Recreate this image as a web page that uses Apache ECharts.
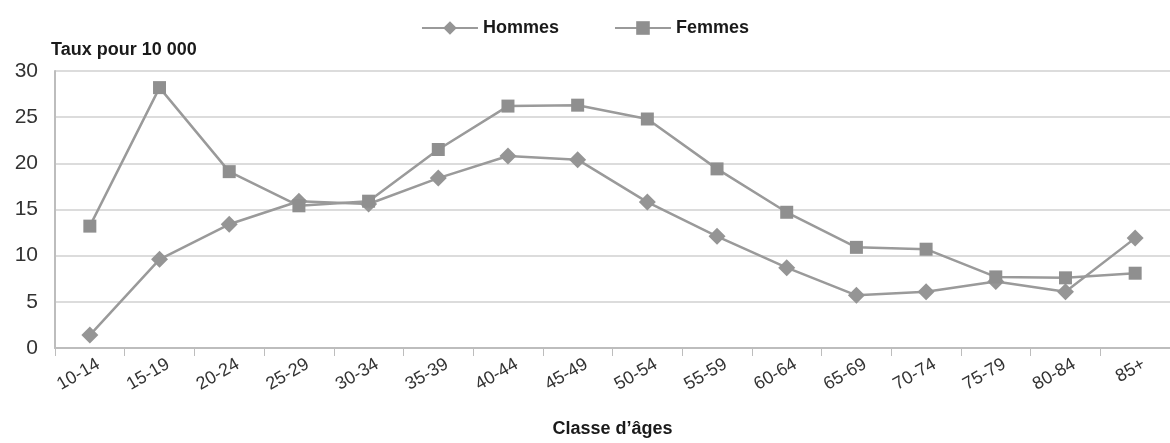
<!DOCTYPE html>
<html><head><meta charset="utf-8">
<script src="https://cdn.jsdelivr.net/npm/echarts@6/dist/echarts.min.js"></script>
<style>html,body{margin:0;padding:0;background:#fff}#c{width:1170px;height:443px}</style>
</head><body><div id="c"></div>
<script>
const categories = ['10-14','15-19','20-24','25-29','30-34','35-39','40-44','45-49','50-54','55-59','60-64','65-69','70-74','75-79','80-84','85+'];
const hommes = [1.4, 9.6, 13.4, 15.9, 15.6, 18.4, 20.8, 20.4, 15.8, 12.1, 8.7, 5.7, 6.1, 7.2, 6.1, 11.9];
const femmes = [13.2, 28.2, 19.1, 15.4, 15.9, 21.5, 26.2, 26.3, 24.8, 19.4, 14.7, 10.9, 10.7, 7.7, 7.6, 8.1];
const yTicks = [0, 5, 10, 15, 20, 25, 30];
const FONT = '"Liberation Sans Narrow", "Arial Narrow", "Liberation Sans", sans-serif';
const chart = echarts.init(document.getElementById('c'));
chart.setOption({
  animation: false,
  textStyle: { fontFamily: FONT },
  legend: {
    top: 14, left: 'center', itemGap: 55, itemWidth: 56, itemHeight: 17,
    textStyle: { fontFamily: FONT, fontSize: 18, fontWeight: 'bold', color: '#1a1a1a' },
    data: [
      { name: 'Hommes', itemStyle: { color: '#959595' } },
      { name: 'Femmes', itemStyle: { color: '#8f8f8f' } }
    ]
  },
  grid: { left: 55, right: 0, top: 71, bottom: 95 },
  xAxis: {
    type: 'category', data: categories, boundaryGap: true,
    name: 'Classe d\u2019\u00e2ges', nameLocation: 'middle', nameGap: 72,
    nameTextStyle: { fontFamily: FONT, fontSize: 18, fontWeight: 'bold', color: '#1a1a1a' },
    axisLine: { lineStyle: { color: '#bdbdbd', width: 2 } },
    axisTick: { show: true, length: 8, lineStyle: { color: '#bdbdbd' } },
    axisLabel: { rotate: 30, fontSize: 18, color: '#333', margin: 20, padding: [0, -10, 0, 0], fontFamily: FONT }
  },
  yAxis: {
    type: 'value', min: yTicks[0], max: yTicks[yTicks.length - 1], interval: 5,
    name: 'Taux pour 10 000', nameLocation: 'end', nameGap: 12,
    nameTextStyle: { fontFamily: FONT, fontSize: 18, fontWeight: 'bold', color: '#1a1a1a', align: 'left', padding: [0, 0, 0, -4] },
    axisLine: { show: true, lineStyle: { color: '#bdbdbd', width: 2 } },
    axisTick: { show: false },
    axisLabel: { fontSize: 21, color: '#333', margin: 17, fontFamily: FONT },
    splitLine: { lineStyle: { color: '#d0d0d0', width: 1.5 } }
  },
  series: [
    { name: 'Hommes', type: 'line', data: hommes, symbol: 'diamond', symbolSize: 17,
      lineStyle: { color: '#9a9a9a', width: 2.5 }, itemStyle: { color: '#959595' } },
    { name: 'Femmes', type: 'line', data: femmes, symbol: 'rect', symbolSize: 13,
      lineStyle: { color: '#9a9a9a', width: 2.5 }, itemStyle: { color: '#8f8f8f' } }
  ]
});
</script></body></html>
